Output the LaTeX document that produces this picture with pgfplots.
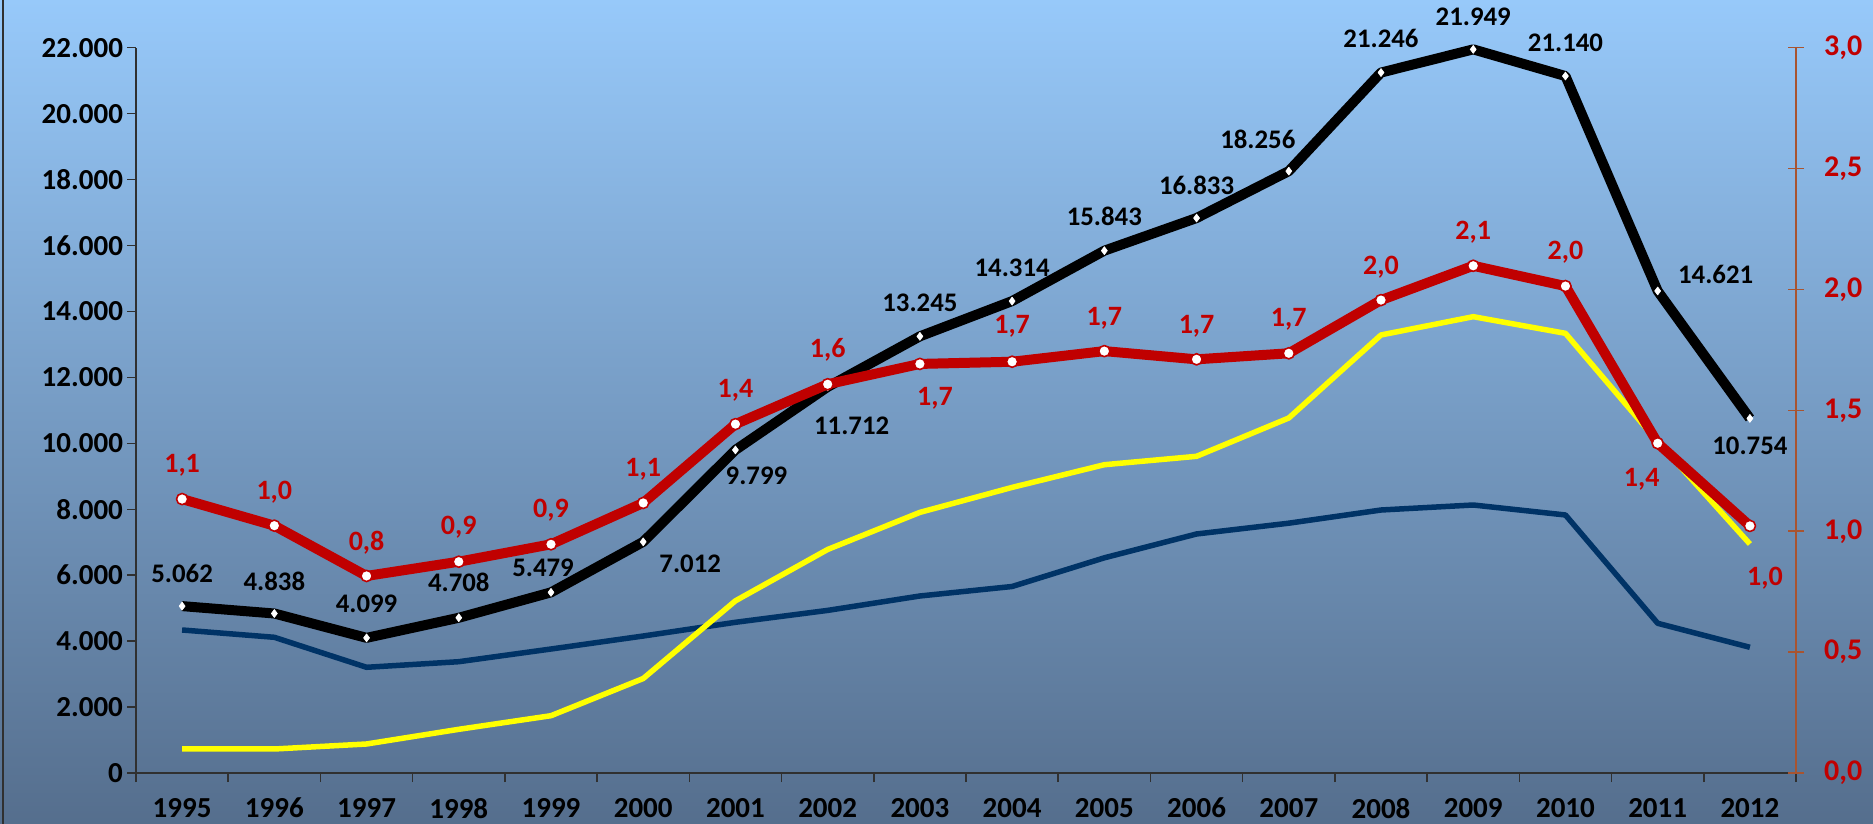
\documentclass[border=0pt]{standalone}
\usepackage{fontspec}
\setmainfont{Carlito}
\usepackage{pgfplots}
\pgfplotsset{compat=1.18}
\usepackage{pgfplotstable}
\pgfplotsset{/pgf/number format/assume math mode=true}

\definecolor{bgtop}{HTML}{97C9FA}
\definecolor{bgmid}{HTML}{77A0CB}
\definecolor{bgbot}{HTML}{556E8D}
\definecolor{axisgray}{HTML}{303030}
\definecolor{axisbrown}{HTML}{A85430}
\definecolor{redline}{HTML}{C00000}
\definecolor{labelred}{HTML}{C00000}
\definecolor{navyline}{HTML}{003366}
\definecolor{yellowline}{HTML}{FFFF00}

% total (black line), with label offsets in pt
\pgfplotstableread{
x y dx dy
0 5062 0 16.5
1 4838 0 16
2 4099 0 17
3 4708 0 17.5
4 5479 -4 12.5
5 7012 23.5 -11
6 9799 10.5 -13
7 11712 12 -19.5
8 13245 0 17
9 14314 0 16.5
10 15843 0 17
11 16833 0 16.5
12 18256 -15.5 16
13 21246 0 17
14 21949 0 16.5
15 21140 0 16.5
16 14621 29 8.5
17 10754 0 -13.5
}\blacktab

\pgfplotstableread{
x y
0 4338
1 4116
2 3206
3 3376
4 3761
5 4155
6 4571
7 4932
8 5369
9 5657
10 6527
11 7250
12 7577
13 7977
14 8129
15 7826
16 4541
17 3813
}\navytab

\pgfplotstableread{
x y
0 728
1 728
2 880
3 1325
4 1738
5 2866
6 5223
7 6780
8 7905
9 8663
10 9351
11 9606
12 10768
13 13286
14 13841
15 13336
16 10050
17 6946
}\yellowtab

\pgfplotstableread{
x y dx dy
0 1.133 0 17
1 1.023 0 16.5
2 0.815 0 16.5
3 0.874 0 17
4 0.946 0 17
5 1.117 0 17
6 1.443 0 17
7 1.608 0 17
8 1.692 7.5 -17
9 1.701 0 17.5
10 1.745 0 16.5
11 1.711 0 16.5
12 1.736 0 17
13 1.956 0 16.5
14 2.098 0 17
15 2.014 0 17
16 1.364 -8 -18
17 1.022 7.5 -26
}\redtab

\begin{document}
\begin{tikzpicture}
\path[use as bounding box] (0,0) rectangle (936.5pt,412pt);
\shade[top color=bgtop, middle color=bgmid, bottom color=bgbot] (0,0) rectangle (936.5pt,412pt);
\draw[axisgray, line width=1pt] (1.6pt,0) -- (1.6pt,412pt);

\begin{axis}[
  at={(68pt,25.5pt)}, anchor=south west,
  scale only axis, width=830pt, height=362.65pt,
  clip=false,
  xmin=-0.5, xmax=17.5, ymin=0, ymax=22000,
  axis x line*=bottom, axis y line*=left,
  axis line style={-, draw=axisgray, line width=0.75pt},
  xtick={0,...,17},
  xticklabels={1995,1996,1997,1998,1999,2000,2001,2002,2003,2004,2005,2006,2007,2008,2009,2010,2011,2012},
  major x tick style={draw=none},
  minor xtick={-0.5,0.5,...,17.5},
  ytick={0,2000,...,22000},
  tick align=outside,
  major tick length=4.5pt, minor tick length=4.5pt,
  tick style={draw=axisgray, line width=0.75pt},
  every tick label/.append style={font=\bfseries\fontsize{14.5}{17}\selectfont, text=black},
  xticklabel style={yshift=-4.5pt},
  scaled y ticks=false,
  yticklabel style={xshift=1.5pt, /pgf/number format/.cd, fixed, precision=0, 1000 sep={.}},
]
\addplot[navyline, line width=2.75pt, line join=round, no marks] table[x=x,y=y] {\navytab};
\addplot[yellowline, line width=2.75pt, line join=round, no marks] table[x=x,y=y] {\yellowtab};
\addplot[black, line width=5pt, line join=round,
  mark=diamond*, mark size=2pt, mark options={fill=white, draw=white, line width=0.3pt},
  point meta=y,
  visualization depends on={\thisrow{dx}\as\dx},
  visualization depends on={\thisrow{dy}\as\dy},
  nodes near coords={\pgfmathprintnumber[fixed,precision=0,1000 sep={.}]{\pgfplotspointmeta}},
  nodes near coords style={font=\bfseries\fontsize{13.4}{15}\selectfont, text=black, anchor=center, inner sep=0pt, xshift=\dx pt, yshift=\dy pt},
] table[x=x,y=y] {\blacktab};
\end{axis}

\begin{axis}[
  at={(68pt,25.5pt)}, anchor=south west,
  scale only axis, width=830pt, height=362.65pt,
  clip=false,
  xmin=-0.5, xmax=17.5, ymin=0, ymax=3,
  axis x line=none, axis y line*=right,
  axis line style={-, draw=axisbrown, line width=0.75pt},
  ytick={0,0.5,1,1.5,2,2.5,3},
  tick align=center, major tick length=8pt,
  tick style={draw=axisbrown, line width=0.75pt},
  every tick label/.append style={font=\bfseries\fontsize{15}{17}\selectfont, text=labelred},
  yticklabel style={xshift=6.5pt, /pgf/number format/.cd, fixed, fixed zerofill, precision=1, use comma},
]
\addplot[redline, line width=5pt, line join=round,
  mark=*, mark size=2.8pt, mark options={fill=white, draw=redline, line width=0.8pt},
  point meta=y,
  visualization depends on={\thisrow{dx}\as\dx},
  visualization depends on={\thisrow{dy}\as\dy},
  nodes near coords={\pgfmathprintnumber[fixed,fixed zerofill,precision=1,use comma]{\pgfplotspointmeta}},
  nodes near coords style={font=\bfseries\fontsize{14}{16}\selectfont, text=labelred, anchor=center, inner sep=0pt, xshift=\dx pt, yshift=\dy pt},
] table[x=x,y=y] {\redtab};
\end{axis}
\end{tikzpicture}
\end{document}
